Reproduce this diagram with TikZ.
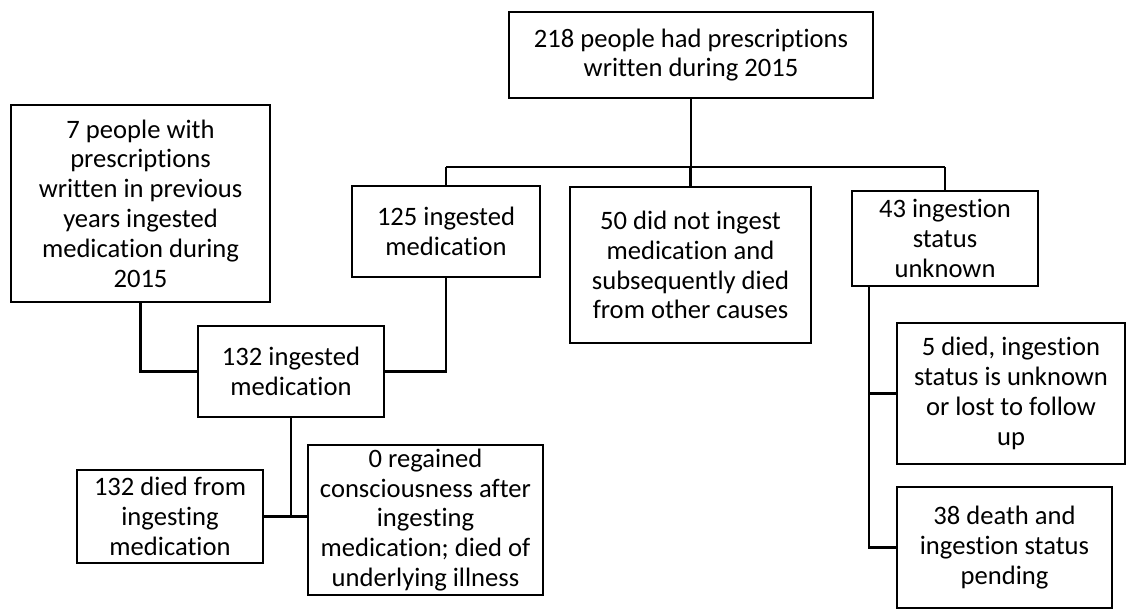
\documentclass[tikz,border=0pt]{standalone}
\usepackage{fontspec}
\setmainfont{Carlito}[Ligatures=NoCommon]
\begin{document}
\begin{tikzpicture}[x=0.5pt,y=-0.5pt,
  box/.style={draw=black,line width=1.3pt,inner sep=0pt,align=center,
    font=\fontsize{13.3}{14.9}\selectfont},
  conn/.style={draw=black,line width=1.2pt}]
\useasboundingbox[fill=white] (0,0) rectangle (1127,611);
\node[box,minimum width=182pt,minimum height=43pt] (top) at (691,55)
  {218 people had prescriptions\\written during 2015};
\node[box,minimum width=129.5pt,minimum height=98.5pt] (n7) at (140.5,203.5)
  {7 people with\\prescriptions\\written in previous\\years ingested\\medication during\\2015};
\node[box,minimum width=94pt,minimum height=45.5pt] (n125) at (446,231.5)
  {125 ingested\\medication};
\node[box,minimum width=120.5pt,minimum height=78pt] (n50) at (690.5,265)
  {50 did not ingest\\medication and\\subsequently died\\from other causes};
\node[box,minimum width=93pt,minimum height=47.5pt] (n43) at (945,238.5)
  {43 ingestion\\status\\unknown};
\node[box,minimum width=93pt,minimum height=45.5pt] (n132) at (291,371.5)
  {132 ingested\\medication};
\node[box,minimum width=93pt,minimum height=46.5pt] (d132) at (170,516.5)
  {132 died from\\ingesting\\medication};
\node[box,minimum width=117.5pt,minimum height=75pt] (n0) at (425.5,520)
  {0 regained\\consciousness after\\ingesting\\medication; died of\\underlying illness};
\node[box,minimum width=114pt,minimum height=70.5pt] (n5) at (1011,393.5)
  {5 died, ingestion\\status is unknown\\or lost to follow\\up};
\node[box,minimum width=107.5pt,minimum height=60.5pt] (n38) at (1004.5,547.5)
  {38 death and\\ingestion status\\pending};
\coordinate (busL) at (446,167);
\coordinate (busR) at (945,167);
\coordinate (rdown) at (869,286);
\draw[conn] (busL) -- (busR);
\draw[conn] (top.south) -- (top.south |- busL);
\draw[conn] (busL) -- (n125.north);
\draw[conn] (n50.north) -- (n50.north |- busL);
\draw[conn] (busR) -- (n43.north);
\draw[conn] (n7.south) |- (n132.west);
\draw[conn] (n125.south) |- (n132.east);
\draw[conn] (n132.south) -- (n132.south |- d132.east);
\draw[conn] (d132.east) -- (d132.east -| n0.west);
\draw[conn] (rdown) |- (n38.west);
\draw[conn] (rdown |- n5.west) -- (n5.west);
\end{tikzpicture}
\end{document}
